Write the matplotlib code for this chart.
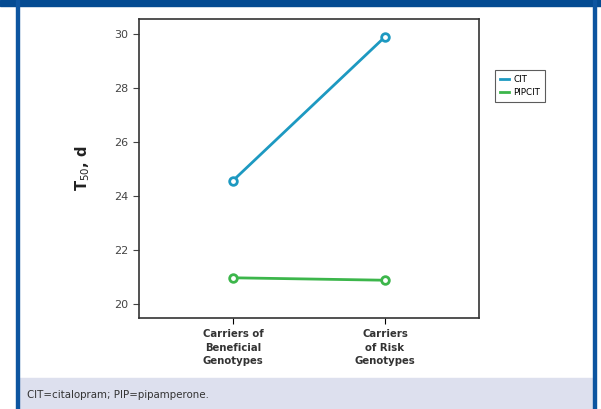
import matplotlib.pyplot as plt
from matplotlib.patches import Rectangle

groups = ["Carriers of\nBeneficial\nGenotypes", "Carriers\nof Risk\nGenotypes"]
cit = [24.57, 29.9]
pipcit = [20.97, 20.88]
yticks = [20, 22, 24, 26, 28, 30]

W, H = 601, 409
fig = plt.figure(figsize=(W / 100, H / 100), dpi=100)
fig.patch.set_facecolor("white")

def px(x0, y0, x1, y1):
    # pixel box -> figure fraction rect
    return [x0 / W, 1 - y1 / H, (x1 - x0) / W, (y1 - y0) / H]

# frame: top band, side rules, footnote strip
fig.add_artist(Rectangle((0, 1 - 6 / H), 1, 6 / H, transform=fig.transFigure,
                         color="#044b92", zorder=0))
fig.add_artist(Rectangle((17 / W, 0), (578 / W), 1 - 378 / H,
                         transform=fig.transFigure, color="#dde0ee", zorder=0))
fig.add_artist(Rectangle((16 / W, 0), 3 / W, 1, transform=fig.transFigure,
                         color="#0d55a0", zorder=1))
fig.add_artist(Rectangle((593 / W, 0), 3 / W, 1, transform=fig.transFigure,
                         color="#0d55a0", zorder=1))
fig.text(27 / W, 1 - 395 / H, "CIT=citalopram; PIP=pipamperone.",
         family="DejaVu Sans", fontsize=7.4, color="#333333", va="center")

ax = fig.add_axes(px(139, 19, 479, 318))
x = list(range(len(groups)))
ax.plot(x, cit, color="#1d99c1", lw=2, marker="o", ms=5.5, mew=2,
        mfc="white", label="CIT")
ax.plot(x, pipcit, color="#3cb64b", lw=2, marker="o", ms=5.5, mew=2,
        mfc="white", label="PIPCIT")

ax.set_xlim(-0.618, 1.618)
ax.set_ylim(19.48, 30.56)
ax.set_yticks(yticks)
ax.set_xticks(x)
ax.set_xticklabels(groups, family="DejaVu Sans", fontweight="bold",
                   fontsize=7.3, color="#333333", linespacing=1.45)
ax.tick_params(axis="y", labelsize=8, colors="#444444", length=4)
ax.tick_params(axis="x", length=4, pad=4)
for s in ax.spines.values():
    s.set_color("#333333")
    s.set_linewidth(1.2)
ax.set_ylabel(r"T$_{50}$, d", fontsize=10.5, fontweight="bold", labelpad=16,
              color="#222222")

leg = ax.legend(loc="upper left", bbox_to_anchor=((491 - 139) / 340, 1 - 47 / 299),
                frameon=True, fontsize=6.3, handlelength=1.0, borderpad=0.55,
                labelspacing=0.45, handletextpad=0.5, fancybox=False)
leg.get_frame().set_edgecolor("#333333")
leg.get_frame().set_linewidth(0.8)
for h in leg.legend_handles:
    h.set_marker("")

fig.savefig("out.png", dpi=100)
